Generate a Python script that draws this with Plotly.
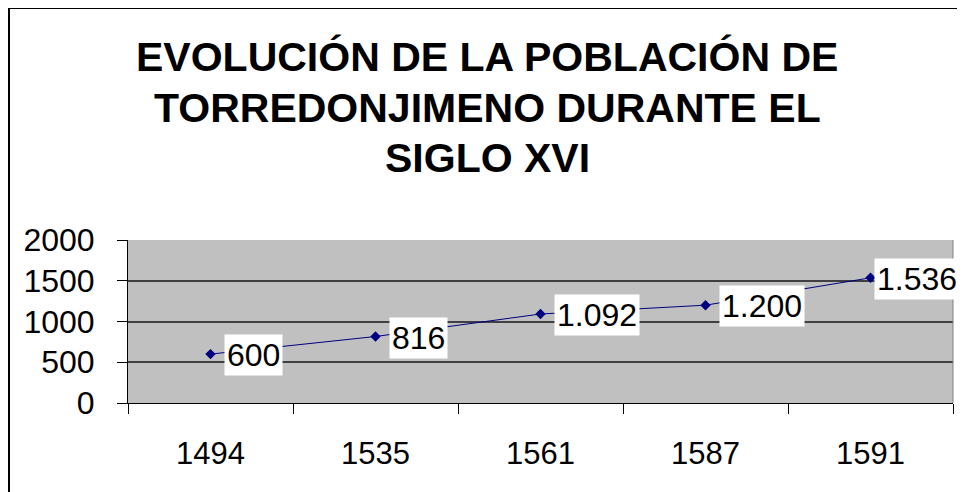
import plotly.graph_objects as go

years = ["1494", "1535", "1561", "1587", "1591"]
population = [600, 816, 1092, 1200, 1536]
y_ticks = [0, 500, 1000, 1500, 2000]
title_lines = ["EVOLUCIÓN DE LA POBLACIÓN DE", "TORREDONJIMENO DURANTE EL", "SIGLO XVI"]

FONT = "Arial, Liberation Sans, sans-serif"
W, H = 965, 492
OFF = 8  # page body margin offset
L, R, T, B = 128 - OFF, W - (953 - OFF), 240 - OFF, H - (403 - OFF)
pw, ph = W - L - R, H - T - B

# style: horizontal gap between point and its label (last one clamped to chart edge)
LABEL_DX = [13, 13, 13, 13, 3]
TITLE_CENTERS_PX = [57, 108, 158]


def px2paper_x(px):
    return (px - OFF - L) / pw


def px2paper_y(py):
    return (H - B - (py - OFF)) / ph


def fmt(v):
    return f"{v:,}".replace(",", ".")


fig = go.Figure()
fig.add_trace(go.Scatter(
    x=years, y=population, mode="lines+markers",
    line=dict(color="#000080", width=1),
    marker=dict(symbol="diamond", size=8, color="#000080"),
    hoverinfo="skip", showlegend=False,
))

annotations = []
for i, v in enumerate(population):
    annotations.append(dict(
        x=i, y=v, xref="x", yref="y", text=fmt(v), showarrow=False,
        xanchor="left", yanchor="middle", xshift=LABEL_DX[i], yshift=-1,
        bgcolor="white", borderpad=2,
        font=dict(family=FONT, size=32, color="black"),
    ))

for line, cy in zip(title_lines, TITLE_CENTERS_PX):
    annotations.append(dict(
        x=px2paper_x(487), y=px2paper_y(cy), xref="paper", yref="paper",
        text=f"<b>{line}</b>", showarrow=False, xanchor="center", yanchor="middle",
        font=dict(family=FONT, size=41, color="black"),
    ))

fig.update_layout(
    width=W, height=H,
    margin=dict(l=L, r=R, t=T, b=B, autoexpand=False),
    paper_bgcolor="white", plot_bgcolor="#C0C0C0",
    xaxis=dict(
        type="category", tickson="boundaries", ticks="outside", ticklen=10,
        tickcolor="black", showline=True, linecolor="black", linewidth=1,
        showgrid=False, tickfont=dict(family=FONT, size=31, color="black"),
        ticklabelstandoff=23, range=[-0.5, 4.5],
    ),
    yaxis=dict(
        range=[0, 2000], tickvals=y_ticks, ticks="outside", ticklen=10,
        tickcolor="black", showline=True, linecolor="black", linewidth=1,
        showgrid=True, gridcolor="#404040", gridwidth=1.5, zeroline=False,
        tickfont=dict(family=FONT, size=32, color="black"),
        ticklabelstandoff=16,
    ),
    annotations=annotations,
    shapes=[
        dict(type="line", xref="paper", yref="paper", x0=1, x1=1, y0=0, y1=1,
             line=dict(color="#808080", width=1)),
        dict(type="line", xref="paper", yref="paper",
             x0=px2paper_x(9), x1=px2paper_x(9), y0=px2paper_y(8), y1=px2paper_y(520),
             line=dict(color="black", width=2)),
        dict(type="line", xref="paper", yref="paper",
             x0=px2paper_x(9), x1=px2paper_x(962), y0=px2paper_y(8), y1=px2paper_y(8),
             line=dict(color="black", width=2)),
        dict(type="line", xref="paper", yref="paper",
             x0=px2paper_x(962), x1=px2paper_x(962), y0=px2paper_y(8), y1=px2paper_y(520),
             line=dict(color="#C8C8C8", width=1)),
    ],
)

fig.write_html("out.html")
